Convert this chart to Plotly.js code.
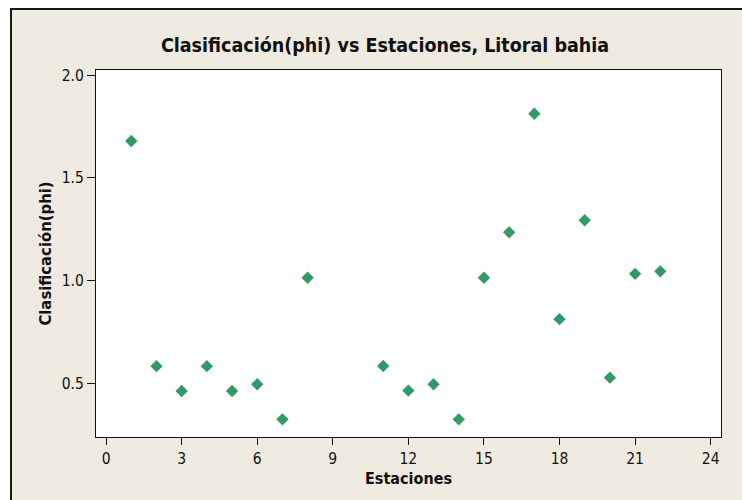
<!DOCTYPE html>
<html>
<head>
<meta charset="utf-8">
<script src="https://cdn.plot.ly/plotly-3.0.1.min.js"></script>
<style>
html, body { margin: 0; padding: 0; background: #ffffff; width: 742px; height: 500px; overflow: hidden; }
#frame { position: absolute; left: 10px; top: 8px; border-left: 2px solid #1a1a1a; border-top: 2px solid #1a1a1a; width: 730px; height: 490px; background: #EFEBE0; }
#chart { width: 730px; height: 490px; }
</style>
</head>
<body>
<div id="frame"><div id="chart"></div></div>
<script>
var estaciones = [1, 2, 3, 4, 5, 6, 7, 8, 11, 12, 13, 14, 15, 16, 17, 18, 19, 20, 21, 22];
var clasificacion = [1.680, 0.583, 0.462, 0.583, 0.462, 0.495, 0.324, 1.014, 0.584, 0.464, 0.495, 0.324, 1.014, 1.235, 1.813, 0.812, 1.294, 0.527, 1.033, 1.045];
var xTicks = [0, 3, 6, 9, 12, 15, 18, 21, 24];
var yTicks = [0.5, 1.0, 1.5, 2.0];

var fontFam = '"DejaVu Sans Condensed", "DejaVu Sans", sans-serif';

var trace = {
  x: estaciones,
  y: clasificacion,
  type: 'scatter',
  mode: 'markers',
  marker: { symbol: 'diamond', size: 9.5, color: '#339966', line: { width: 0 } },
  hoverinfo: 'x+y'
};

var layout = {
  width: 730,
  height: 490,
  paper_bgcolor: '#EFEBE0',
  plot_bgcolor: '#ffffff',
  margin: { l: 84, r: 21, t: 60, b: 63 },
  showlegend: false,
  font: { family: fontFam, color: '#111111' },
  title: {
    text: '<b>Clasificación(phi) vs Estaciones, Litoral bahia</b>',
    font: { family: fontFam, size: 19.5, color: '#111111' },
    xref: 'container', x: 0.511, xanchor: 'center',
    yref: 'container', y: 0.929, yanchor: 'middle'
  },
  xaxis: {
    range: [-0.4, 24.41],
    tickmode: 'array',
    tickvals: xTicks,
    ticktext: xTicks.map(String),
    ticks: 'outside', ticklen: 7, tickwidth: 1, tickcolor: '#111',
    showgrid: false, zeroline: false,
    showline: true, linecolor: '#111', linewidth: 1, mirror: true,
    tickfont: { family: fontFam, size: 15.5, color: '#111' },
    title: { text: '<b>Estaciones</b>', font: { family: fontFam, size: 16, color: '#111' }, standoff: 6 }
  },
  yaxis: {
    range: [0.238, 2.026],
    tickmode: 'array',
    tickvals: yTicks,
    ticktext: ['0.5', '1.0', '1.5', '2.0'],
    ticks: 'outside', ticklen: 8, tickwidth: 1, tickcolor: '#111',
    showgrid: false, zeroline: false,
    showline: true, linecolor: '#111', linewidth: 1, mirror: true,
    tickfont: { family: fontFam, size: 15.5, color: '#111' },
    title: { text: '<b>Clasificación(phi)</b>', font: { family: fontFam, size: 16.5, color: '#111' }, standoff: 5 }
  }
};

Plotly.newPlot('chart', [trace], layout, { displayModeBar: false, staticPlot: false });
</script>
</body>
</html>
